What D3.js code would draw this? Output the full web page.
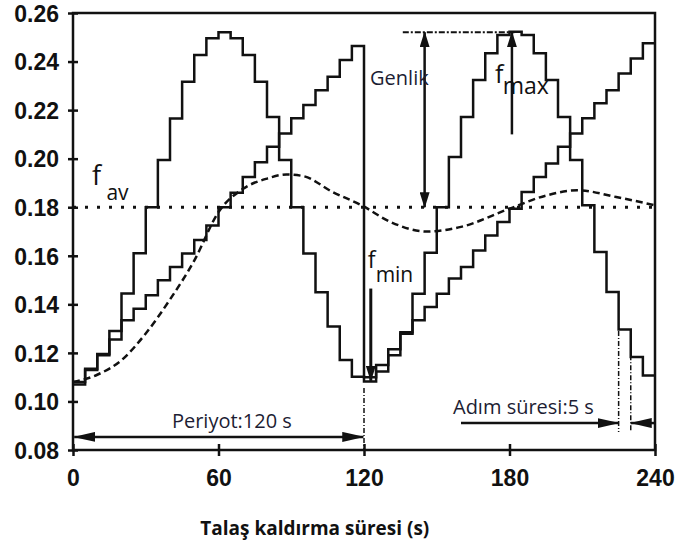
<!DOCTYPE html>
<html><head><meta charset="utf-8">
<script src="https://cdn.jsdelivr.net/npm/d3@7"></script>
<style>body{margin:0;background:#fff}</style>
</head><body>
<svg id="chart" width="680" height="546"></svg>
<script>
// ---------- data ----------
const stepDuration = 5; // s
// sine-like staircase (f), 48 steps of 5 s
const seriesA = [0.1070,0.1130,0.1190,0.1290,0.1445,0.1610,0.1800,0.1994,0.2165,0.2317,0.2427,0.2496,
                 0.2521,0.2496,0.2427,0.2317,0.2172,0.1994,0.1800,0.1609,0.1450,0.1309,0.1171,0.1102,
                 0.1082,0.1123,0.1190,0.1285,0.1444,0.1612,0.1800,0.2007,0.2172,0.2324,0.2434,0.2509,
                 0.2523,0.2509,0.2434,0.2324,0.2172,0.1994,0.1808,0.1616,0.1451,0.1296,0.1183,0.1107];
// sawtooth staircase
const seriesB = [0.1080,0.1135,0.1195,0.1255,0.1334,0.1382,0.1437,0.1499,0.1554,0.1609,0.1665,0.1725,
                 0.1800,0.1860,0.1925,0.1985,0.2049,0.2104,0.2166,0.2221,0.2282,0.2337,0.2406,0.2464,
                 0.1100,0.1150,0.1215,0.1279,0.1334,0.1389,0.1444,0.1506,0.1554,0.1622,0.1684,0.1739,
                 0.1794,0.1863,0.1925,0.1980,0.2049,0.2104,0.2166,0.2228,0.2282,0.2351,0.2413,0.2475];
// smooth (dashed) curve
const avgTime  = [0,10,20,30,40,50,60,70,80,88,95,107,119,131,146,160,180,195,208,224,240];
const avgValue = [0.1080,0.1110,0.1170,0.1280,0.1420,0.1580,0.1780,0.1875,0.1918,0.1935,0.1928,0.1863,
                  0.1808,0.1739,0.1700,0.1719,0.1794,0.1848,0.1870,0.1842,0.1808];
const fAverage = 0.18;
const xTicks = [0,60,120,180,240];
const yTicks = [0.08,0.10,0.12,0.14,0.16,0.18,0.20,0.22,0.24,0.26];
const xTitle = "Talaş kaldırma süresi (s)";
const labelGenlik = "Genlik";
const labelPeriod = "Periyot:120 s";
const labelStep = "Adım süresi:5 s";

// ---------- scales ----------
const svg = d3.select("#chart");
const x = d3.scaleLinear().domain([0,240]).range([73,655]);
const y = d3.scaleLinear().domain([0.08,0.26]).range([450,13]);
const ink = "#111";

// markers
const defs = svg.append("defs");
defs.append("marker").attr("id","arr").attr("viewBox","0 0 16 10")
  .attr("refX",15).attr("refY",5).attr("markerWidth",16).attr("markerHeight",10)
  .attr("markerUnits","userSpaceOnUse").attr("orient","auto-start-reverse")
  .append("path").attr("d","M0,0 L16,5 L0,10 Z").attr("fill",ink);
defs.append("marker").attr("id","arrBig").attr("viewBox","0 0 22 10")
  .attr("refX",21).attr("refY",5).attr("markerWidth",22).attr("markerHeight",10)
  .attr("markerUnits","userSpaceOnUse").attr("orient","auto-start-reverse")
  .append("path").attr("d","M0,0 L22,5 L0,10 Z").attr("fill",ink);

// ---------- axes ----------
const yAxis = svg.append("g").attr("transform",`translate(${x(0)},0)`)
  .call(d3.axisLeft(y).tickValues(yTicks).tickFormat(d3.format(".2f")).tickSizeOuter(0).tickPadding(8));
const xAxis = svg.append("g").attr("transform",`translate(0,${y(0.08)})`)
  .call(d3.axisBottom(x).tickValues(xTicks).tickSizeOuter(0).tickPadding(14));
[yAxis,xAxis].forEach(g=>{
  g.select(".domain").remove();
  g.selectAll(".tick text").attr("font-family","Liberation Sans, Arial, sans-serif")
    .attr("font-weight","bold").attr("font-size",23).attr("fill",ink);
});
yAxis.selectAll(".tick line").attr("x1",-5).attr("x2",5).attr("stroke",ink).attr("stroke-width",2.5);
xAxis.selectAll(".tick line").attr("y1",-6).attr("y2",6).attr("stroke",ink).attr("stroke-width",2.5);
yAxis.selectAll(".tick text").attr("dy","0.36em");

svg.append("rect").attr("x",x(0)).attr("y",y(0.26))
  .attr("width",x(240)-x(0)).attr("height",y(0.08)-y(0.26))
  .attr("fill","none").attr("stroke",ink).attr("stroke-width",2.5);

// ---------- series ----------
const stepLine = d3.line().x(d=>x(d.t)).y(d=>y(d.v)).curve(d3.curveStepAfter);
function toSteps(vals){
  const pts = vals.map((v,i)=>({t:i*stepDuration,v}));
  pts.push({t:vals.length*stepDuration, v:vals[vals.length-1]});
  return pts;
}
// average dotted line
svg.append("line").attr("x1",x(0)).attr("x2",x(240)).attr("y1",y(fAverage)).attr("y2",y(fAverage))
  .attr("stroke",ink).attr("stroke-width",3).attr("stroke-dasharray","3,9");
// dashed smooth curve
svg.append("path").datum(avgTime.map((t,i)=>({t,v:avgValue[i]})))
  .attr("d",d3.line().x(d=>x(d.t)).y(d=>y(d.v)).curve(d3.curveMonotoneX))
  .attr("fill","none").attr("stroke",ink).attr("stroke-width",2.5).attr("stroke-dasharray","7,4");
[seriesA,seriesB].forEach(s=>{
  svg.append("path").datum(toSteps(s)).attr("d",stepLine)
    .attr("fill","none").attr("stroke",ink).attr("stroke-width",2.5).attr("stroke-linejoin","miter");
});

// ---------- annotations ----------
function seg(t1,v1,t2,v2,opts={}){
  const l = svg.append("line").attr("x1",x(t1)).attr("y1",y(v1)).attr("x2",x(t2)).attr("y2",y(v2))
    .attr("stroke",ink).attr("stroke-width",opts.w||2);
  if(opts.dash) l.attr("stroke-dasharray",opts.dash);
  if(opts.start) l.attr("marker-start",`url(#${opts.start})`);
  if(opts.end) l.attr("marker-end",`url(#${opts.end})`);
  return l;
}
// amplitude (Genlik)
seg(136,0.2521,182,0.2521,{w:2,dash:"6,2,2,2"});
seg(145,0.2521,145,0.1800,{w:2.5,start:"arr",end:"arr"});
// f_max arrow
seg(181,0.2100,181,0.2521,{w:2.5,end:"arr"});
// f_min arrow
seg(122.8,0.1465,122.8,0.1085,{w:3,end:"arr"});
// period
seg(120,0.1055,120,0.08,{w:1.5,dash:"5,2,1,2"});
seg(0.5,0.0854,119.7,0.0854,{w:2.5,start:"arrBig",end:"arrBig"});
// step duration
seg(225,0.1290,225,0.0874,{w:1.5,dash:"5,2,1,2"});
seg(230,0.1190,230,0.0874,{w:1.5,dash:"5,2,1,2"});
seg(160,0.0911,225,0.0911,{w:2.5,end:"arrBig"});
seg(240,0.0911,230,0.0911,{w:2.5,end:"arrBig"});

function txt(t,v,s,size,opts={}){
  return svg.append("text").attr("x",x(t)).attr("y",y(v)).text(s)
    .attr("font-family",opts.family||"Open Sans, sans-serif").attr("font-size",size)
    .attr("font-weight",opts.weight||"normal").attr("fill",opts.fill||ink)
    .attr("text-anchor",opts.anchor||"start");
}
txt(122.5,0.2303,labelGenlik,20,{fill:"#1d1d33"});
txt(40.8,0.0891,labelPeriod,20,{fill:"#1d1d33"});
txt(156.7,0.0948,labelStep,20,{fill:"#1d1d33"});
// f labels
txt(7.8,0.1892,"f",27);
txt(13.8,0.1830,"av",21);
txt(174,0.2313,"f",25);
txt(177.2,0.2268,"max",23);
txt(121.5,0.1549,"f",23);
txt(124.8,0.1492,"min",21);
// x title
svg.append("text").attr("x",x(52.5)).attr("y",535).text(xTitle)
  .attr("font-family","Open Sans, sans-serif").attr("font-weight","bold").attr("font-size",19).attr("fill",ink);
</script>
</body></html>
